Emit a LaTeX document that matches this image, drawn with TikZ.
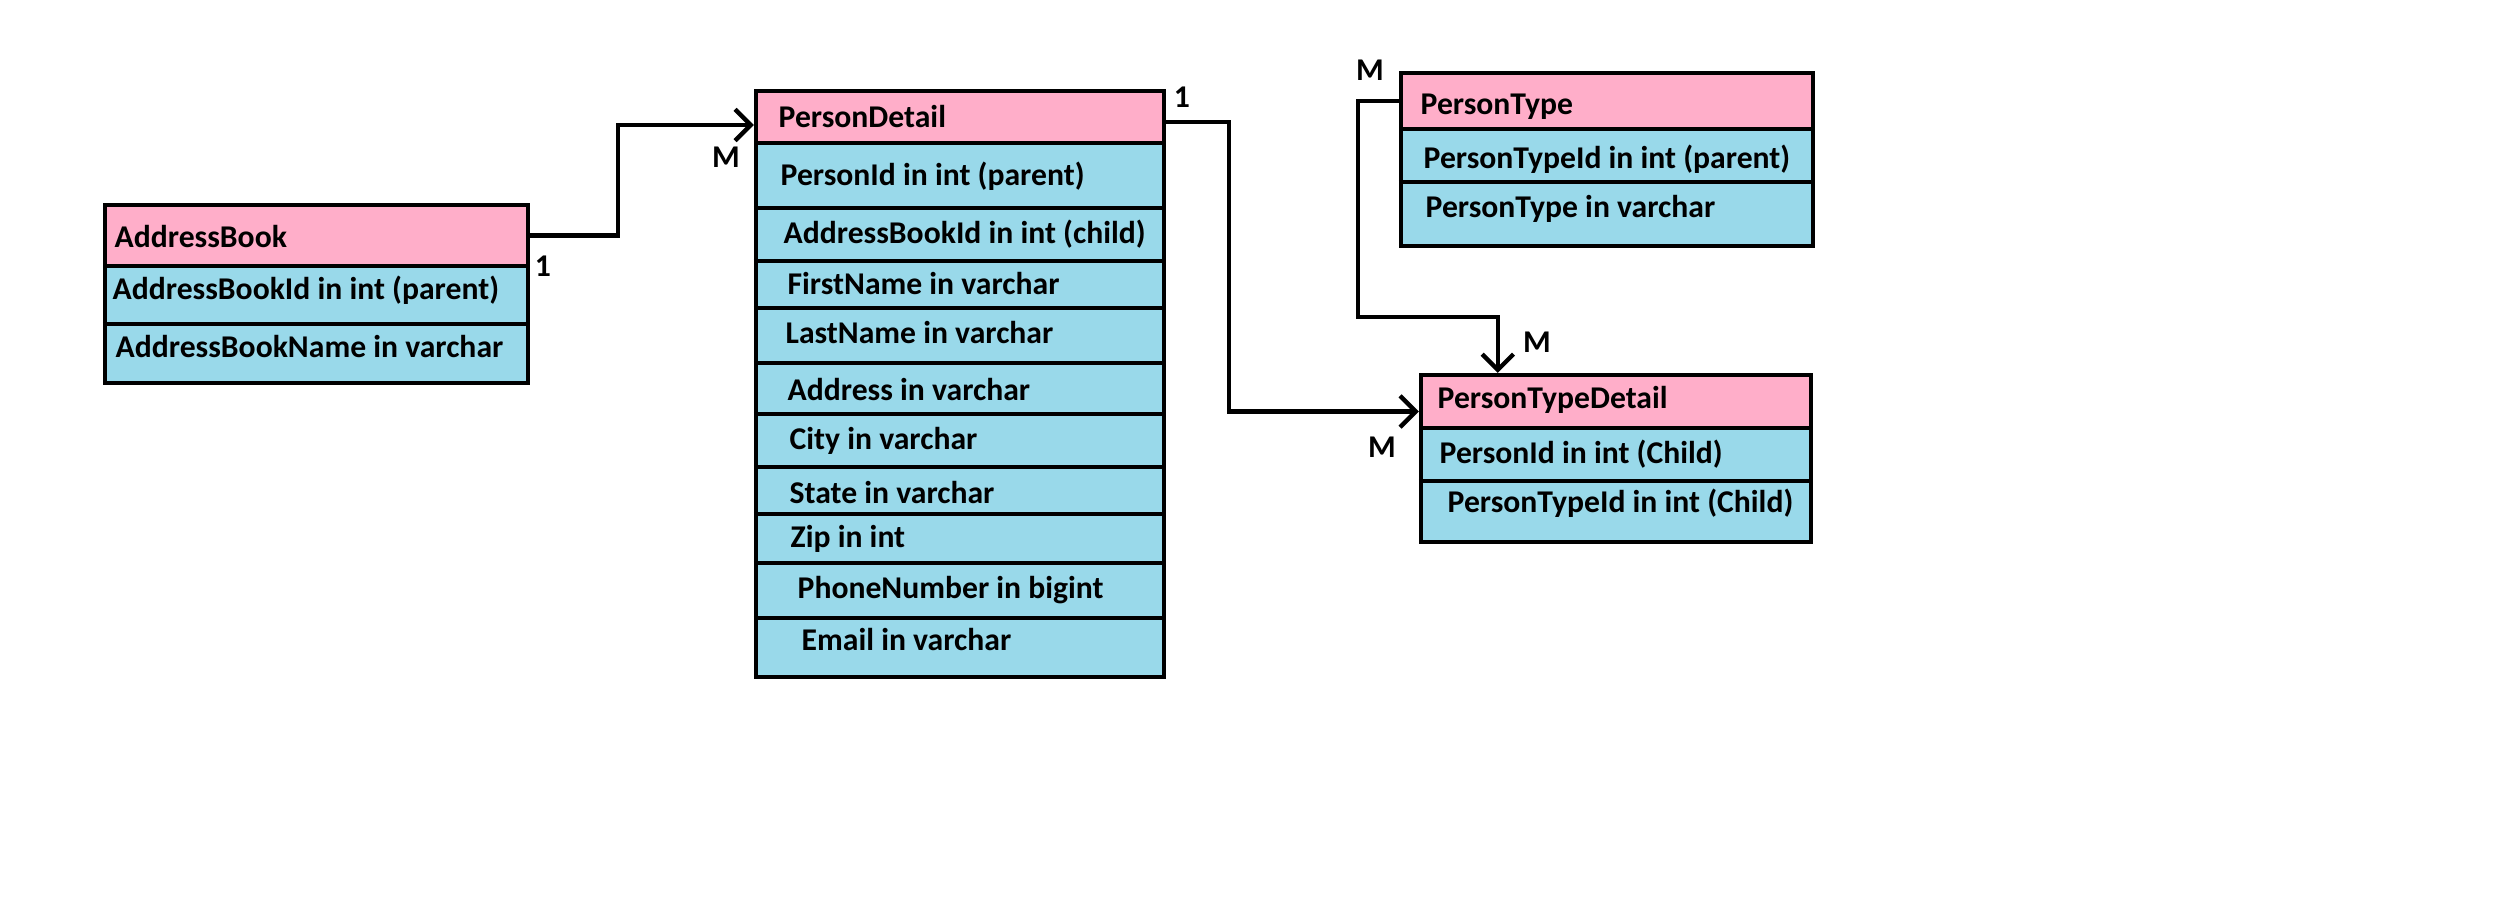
\documentclass[tikz,border=0pt]{standalone}
\usepackage{fontspec}
\setmainfont{Carlito}
\usetikzlibrary{arrows.meta,fit}
\definecolor{hdrpink}{HTML}{FFAEC9}
\definecolor{rowblue}{HTML}{99D9EA}
\tikzset{
 tbl/.style={draw=black, line width=1.3pt, fill=rowblue, inner sep=0pt},
 hdr/.style={draw=black, line width=1.3pt, fill=hdrpink, inner sep=0pt},
 sepline/.style={line width=1.3pt},
 txt/.style={anchor=base west, inner sep=0pt, font=\bfseries\fontsize{9.5}{11}\selectfont},
 card/.style={anchor=center, inner sep=0pt, font=\bfseries\fontsize{9.5}{11}\selectfont},
 conn/.style={line width=1.3pt},
 arr/.style={conn, -{Straight Barb[length=4.7pt,width=9.4pt]}},
}
\begin{document}
\begin{tikzpicture}[x=0.3pt,y=-0.3pt]
\useasboundingbox[fill=white] (0,0) rectangle (2508,916);

% AddressBook
\node[tbl, fit={(105,205)(528,383)}] (ab) {};
\node[hdr, fit={(105,205)(528,266)}] (abh) {};
\draw[sepline] (ab.west |- 0,324) -- (ab.east |- 0,324);
\node[txt] (ab0) at (114,247) {AddressBook};
\node[txt] (ab1) at (112,299) {AddressBookId in int (parent)};
\node[txt] (ab2) at (115,357) {AddressBookName in varchar};

% PersonDetail
\node[tbl, fit={(756,91)(1164,677)}] (pd) {};
\node[hdr, fit={(756,91)(1164,143)}] (pdh) {};
\foreach \yy in {208,261,308,363,414,467,514,563,618}
  \draw[sepline] (pd.west |- 0,\yy) -- (pd.east |- 0,\yy);
\node[txt] (pd0) at (778,127) {PersonDetail};
\node[txt] (pd1) at (780,185) {PersonId in int (parent)};
\node[txt] (pd2) at (783,243) {AddressBookId in int (child)};
\node[txt] (pd3) at (787,294) {FirstName in varchar};
\node[txt] (pd4) at (785,343) {LastName in varchar};
\node[txt] (pd5) at (787,400) {Address in varchar};
\node[txt] (pd6) at (789,449) {City in varchar};
\node[txt] (pd7) at (789,503) {State in varchar};
\node[txt] (pd8) at (790,547) {Zip in int};
\node[txt] (pd9) at (797,598) {PhoneNumber in bigint};
\node[txt] (pd10) at (801,650) {Email in varchar};

% PersonType
\node[tbl, fit={(1401,73)(1813,246)}] (pt) {};
\node[hdr, fit={(1401,73)(1813,129)}] (pth) {};
\draw[sepline] (pt.west |- 0,182) -- (pt.east |- 0,182);
\node[txt] (pt0) at (1420,114) {PersonType};
\node[txt] (pt1) at (1423,168) {PersonTypeId in int (parent)};
\node[txt] (pt2) at (1425,217) {PersonType in varchar};

% PersonTypeDetail
\node[tbl, fit={(1421,375)(1811,542)}] (ptd) {};
\node[hdr, fit={(1421,375)(1811,428)}] (ptdh) {};
\draw[sepline] (ptd.west |- 0,481) -- (ptd.east |- 0,481);
\node[txt] (ptd0) at (1437,408) {PersonTypeDetail};
\node[txt] (ptd1) at (1439,463) {PersonId in int (Child)};
\node[txt] (ptd2) at (1447,512) {PersonTypeId in int (Child)};

% connectors
\draw[arr] (abh.east) -- ++(88,0) |- ([yshift=-2.4pt]pdh.west);
\draw[arr] ([yshift=-1.5pt]pdh.east) -- ++(63,0) |- ([yshift=-3pt]ptdh.west);
\draw[arr] (pth.west) -- ++(-41,0) -- ++(0,216) -| ([xshift=23.7pt]ptdh.north west);

% cardinalities
\node[card] (c1) at (543,266) {1};
\node[card] (c2) at (726,157) {M};
\node[card] (c3) at (1182,97) {1};
\node[card] (c4) at (1370,70) {M};
\node[card] (c5) at (1537,342) {M};
\node[card] (c6) at (1382,447) {M};
\end{tikzpicture}
\end{document}
